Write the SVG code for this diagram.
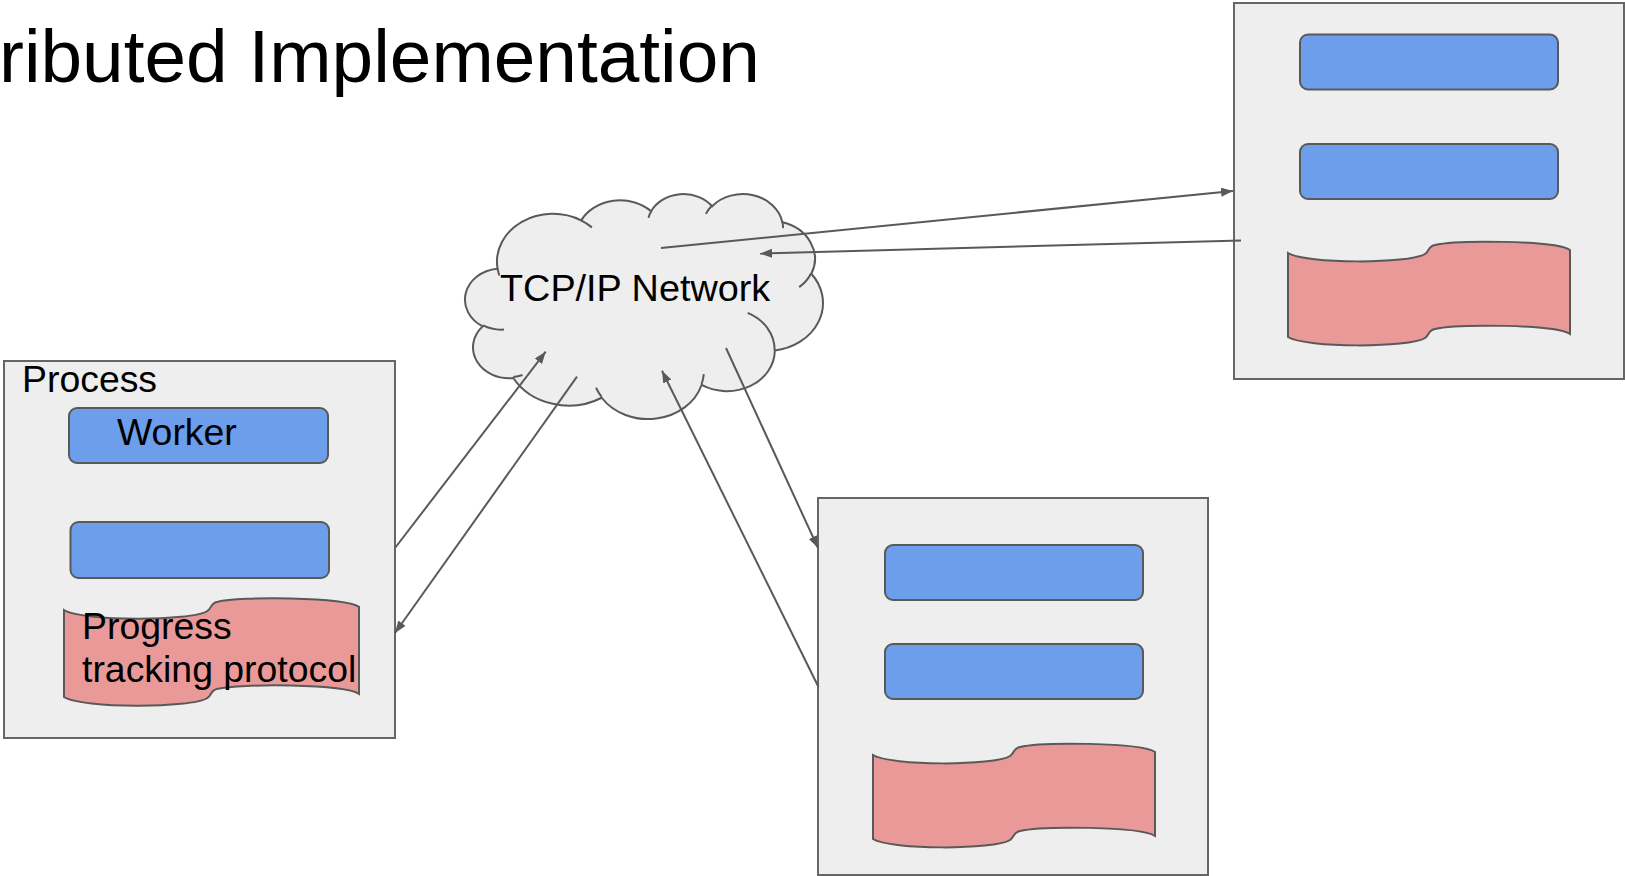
<svg xmlns="http://www.w3.org/2000/svg" width="1625" height="876" viewBox="0 0 1625 876">
  <style>
    .box { fill: #eeeeee; stroke: #666666; stroke-width: 2; }
    .worker { fill: #6d9eeb; stroke: #595959; stroke-width: 2; }
    .tape { fill: #ea9999; stroke: #595959; stroke-width: 2; }
    .cloud { fill: #eeeeee; stroke: #595959; stroke-width: 2; }
    .cloud-inner { fill: none; stroke: #595959; stroke-width: 2; }
    .edge { fill: none; stroke: #595959; stroke-width: 2; marker-end: url(#arrow); }
    .label { font-family: "Liberation Sans", Arial, sans-serif; font-size: 37.4px; fill: #000000; }
    .title { font-family: "Liberation Sans", Arial, sans-serif; font-size: 74.8px; fill: #000000; }
  </style>
  <defs>
    <marker id="arrow" markerUnits="userSpaceOnUse" markerWidth="13" markerHeight="10" refX="12" refY="4.5" orient="auto">
      <path d="M0,0 L12,4.5 L0,9 Z" fill="#595959"/>
    </marker>
    <!-- punched-tape style storage shape, 282 x 84 -->
    <path id="tape" d="M0,0 C17,11 122,11 137,1 C141,-1 140,-7 147,-8 C167,-13 267,-13 282,-3 L282,81 C267,71 167,71 147,76 C140,77 141,83 137,85 C122,95 17,95 0,84 Z"/>
  </defs>

  <rect width="1625" height="876" fill="#ffffff"/>

  <text class="title" x="-1" y="82">ributed Implementation</text>

  <!-- network cloud -->
  <g id="network">
    <g transform="translate(465.2,193.3) scale(0.008277,0.005206)">
      <path class="cloud" vector-effect="non-scaling-stroke" d="M3900 14370 A6753 9190 0 0 1 14006 5203 A5333 7267 0 0 1 22459 3434 A4365 5945 0 0 1 29836 2482 A4857 6595 0 0 1 38321 5577 A5333 7273 0 0 1 41821 15461 A6775 9220 0 0 1 37409 30207 A5785 7867 0 0 1 28561 36818 A6752 9215 0 0 1 16487 39272 A7720 10543 0 0 1 5812 35479 A4360 5918 0 0 1 2121 25556 A4345 5945 0 0 1 3871 14512 Z"/>
      <path class="cloud-inner" vector-effect="non-scaling-stroke" d="M4693 26177 A4345 5945 0 0 1 2160 25380 M6928 34899 A4360 5918 0 0 1 5819 35281 M16478 39090 A6752 9215 0 0 1 15809 37347 M28827 34751 A6752 9215 0 0 1 28560 36660 M34129 22954 A5785 7867 0 0 1 37380 30089 M41798 15354 A5333 7273 0 0 1 40351 18029 M38324 5426 A4857 6595 0 0 1 38400 6690 M29078 3952 A4857 6595 0 0 1 29820 2340 M22141 4720 A4365 5945 0 0 1 22500 3330 M14000 5192 A6753 9190 0 0 1 15302 6543 M4127 15789 A6753 9190 0 0 1 3900 14371"/>
    </g>
    <text class="label" x="500" y="301" style="font-size:37.8px">TCP/IP Network</text>
  </g>

  <!-- process on the left -->
  <g id="process-left">
    <rect class="box" x="4" y="361" width="391" height="377"/>
    <text class="label" x="22" y="392">Process</text>
    <rect class="worker" x="69" y="408" width="259" height="55" rx="8"/>
    <text class="label" x="117" y="445">Worker</text>
    <rect class="worker" x="70.5" y="522" width="258.5" height="56" rx="8"/>
    <path class="tape" transform="translate(64,610)" d="M0,0 C17.8,11.4 127.6,11.4 143.3,1 C147.5,-1 146.4,-7.3 153.8,-8.3 C174.7,-13.5 279.3,-13.5 295,-3.1 L295,83.9 C279.3,73.6 174.7,73.6 153.8,78.7 C146.4,79.8 147.5,86 143.3,88 C127.6,98.4 17.8,98.4 0,87 Z"/>
    <text class="label" x="82" y="639">Progress</text>
    <text class="label" x="82" y="682">tracking protocol</text>
  </g>

  <!-- process at the bottom -->
  <g id="process-bottom">
    <rect class="box" x="818" y="498" width="390" height="377"/>
    <rect class="worker" x="885" y="545" width="258" height="55" rx="8"/>
    <rect class="worker" x="885" y="644" width="258" height="55" rx="8"/>
    <use href="#tape" class="tape" x="873" y="755"/>
  </g>

  <!-- process at the top right -->
  <g id="process-right">
    <rect class="box" x="1234" y="3" width="390" height="376"/>
    <rect class="worker" x="1300" y="34.5" width="258" height="55" rx="8"/>
    <rect class="worker" x="1300" y="144" width="258" height="55" rx="8"/>
    <use href="#tape" class="tape" x="1288" y="253"/>
  </g>

  <!-- connectors -->
  <g id="connectors">
    <line class="edge" x1="661" y1="248" x2="1233" y2="191"/>
    <line class="edge" x1="1241" y1="240.5" x2="760" y2="253.5"/>
    <line class="edge" x1="395" y1="548" x2="545.7" y2="351.7"/>
    <line class="edge" x1="577" y1="376.7" x2="395" y2="633"/>
    <line class="edge" x1="818.5" y1="687" x2="662" y2="370.7"/>
    <line class="edge" x1="726" y1="348" x2="818" y2="548"/>
  </g>
</svg>
